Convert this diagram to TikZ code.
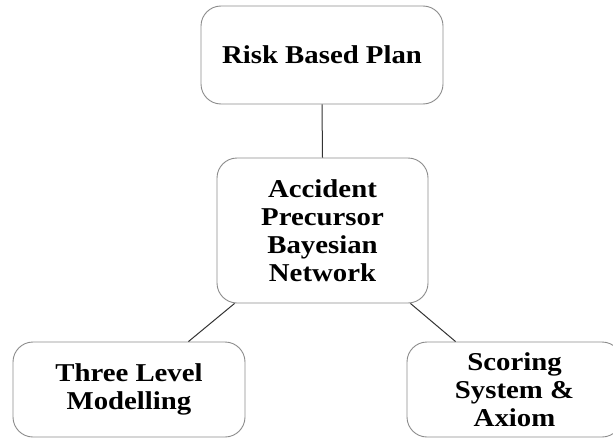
\documentclass[tikz,border=0pt]{standalone}
\usepackage{fontspec}
\setmainfont{Liberation Serif}[FakeStretch=1.12]
\usetikzlibrary{calc}
\begin{document}
\begin{tikzpicture}[x=1pt,y=-1pt,
  box/.style={draw=black!45, line width=0.9pt, rounded corners=20pt, fill=white,
    align=center, inner sep=0pt,
    font=\fontsize{25.7}{28}\selectfont\bfseries},
  link/.style={draw=black!80, line width=1pt}]
  \useasboundingbox[fill=white] (0,0) rectangle (613,439);
  \clip (0,0) rectangle (613,439);
  % boxes
  \node[box, minimum width=242pt, minimum height=98pt] (plan) at (322,55) {Risk Based Plan};
  \node[box, minimum width=211pt, minimum height=145pt] (net) at (322.5,230.5)
    {Accident\\Precursor\\Bayesian\\Network};
  \node[box, minimum width=232pt, minimum height=95pt] (three) at (129,389.5)
    {Three Level\\Modelling};
  \node[box, minimum width=215pt, minimum height=95pt] (score) at (514.5,389.5)
    {Scoring\\System \&\\Axiom};
  % connectors
  \draw[link] (plan.south) -- (net.north);
  \draw[link] ($(net.south west)+(18,0)$) -- ($(three.north east)+(-57,0)$);
  \draw[link] ($(net.south east)+(-18,0)$) -- ($(score.north west)+(49,0)$);
\end{tikzpicture}
\end{document}
